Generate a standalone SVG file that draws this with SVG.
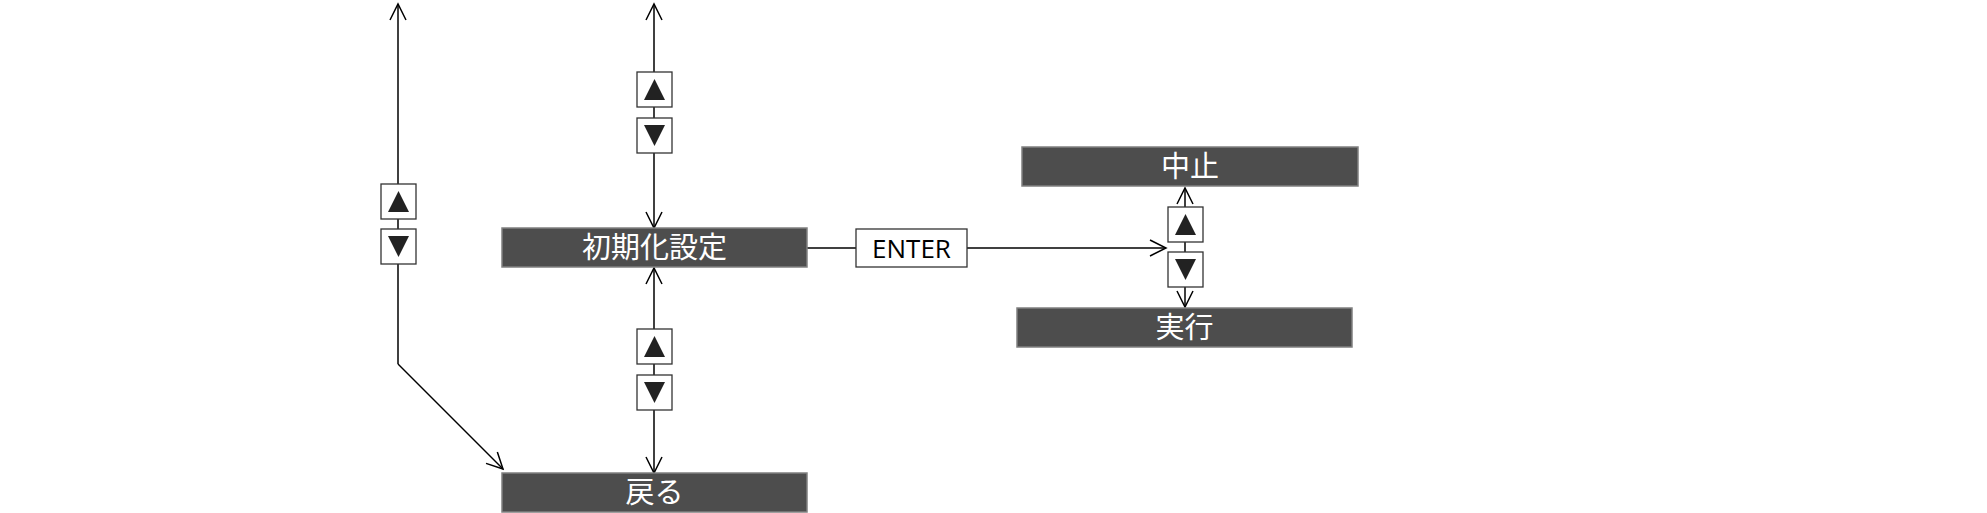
<svg xmlns="http://www.w3.org/2000/svg" width="1987" height="513" viewBox="0 0 1987 513">
<style>
.box{fill:#4d4d4d;stroke:#808080;stroke-width:1.5}
.t{fill:#fff;font-family:"Noto Sans CJK JP","Noto Sans",sans-serif;font-size:29px;text-anchor:middle}
.btn{fill:#fff;stroke:#333;stroke-width:1.3}
.tri{fill:#222}
.ln{stroke:#000;stroke-width:1.5;fill:none}
</style>
<defs>
<marker id="a" viewBox="0 0 20 20" refX="18" refY="10" markerWidth="20" markerHeight="20" markerUnits="userSpaceOnUse" orient="auto-start-reverse"><path d="M2,2 L18,10 L2,18" fill="none" stroke="#000" stroke-width="1.5"/></marker>
<g id="up"><rect class="btn" x="0" y="0" width="35" height="35"/><path class="tri" d="M17.5,7 L28,28 L7,28Z"/></g>
<g id="dn"><rect class="btn" x="0" y="0" width="35" height="35"/><path class="tri" d="M7,7 L28,7 L17.5,28Z"/></g>
</defs>
<g id="connectors">
<path class="ln" d="M398,364 L398,4" marker-end="url(#a)"/>
<path class="ln" d="M398,364 L503,469" marker-end="url(#a)"/>
<path class="ln" d="M654,4 L654,228" marker-start="url(#a)" marker-end="url(#a)"/>
<path class="ln" d="M654,268 L654,473" marker-start="url(#a)" marker-end="url(#a)"/>
<path class="ln" d="M807,248 L1166,248" marker-end="url(#a)"/>
<path class="ln" d="M1185,188 L1185,307" marker-start="url(#a)" marker-end="url(#a)"/>
</g>
<g id="btns">
<use href="#up" x="381" y="184"/><use href="#dn" x="381" y="229"/>
<use href="#up" x="637" y="72"/><use href="#dn" x="637" y="118"/>
<use href="#up" x="637" y="329"/><use href="#dn" x="637" y="375"/>
<use href="#up" x="1168" y="207"/><use href="#dn" x="1168" y="252"/>
</g>
<g id="enter"><rect x="856" y="229" width="111" height="38" fill="#fff" stroke="#333" stroke-width="1.3"/><text x="911.5" y="258" font-family="'Open Sans','Noto Sans',sans-serif" font-size="26" text-anchor="middle">ENTER</text></g>
<g id="init"><rect class="box" x="502" y="228" width="305" height="39"/><text class="t" x="654.5" y="258">初期化設定</text></g>
<g id="back"><rect class="box" x="502" y="473" width="305" height="39"/><text class="t" x="654.5" y="503">戻る</text></g>
<g id="stop"><rect class="box" x="1022" y="147" width="336" height="39"/><text class="t" x="1190" y="177">中止</text></g>
<g id="exec"><rect class="box" x="1017" y="308" width="335" height="39"/><text class="t" x="1184.5" y="338">実行</text></g>
</svg>
